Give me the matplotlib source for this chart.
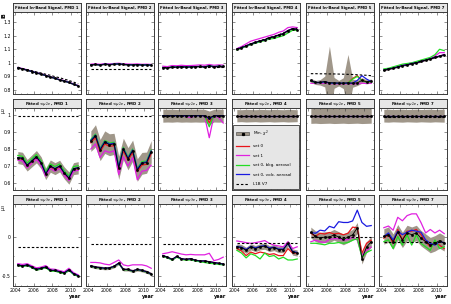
import matplotlib
matplotlib.use('Agg')
import matplotlib.pyplot as plt
from matplotlib.ticker import AutoMinorLocator, FuncFormatter
from matplotlib.patches import Patch
from matplotlib.lines import Line2D

# time axis (semi-annual fits)
yrs = [2004.3, 2004.8, 2005.3, 2005.8, 2006.3, 2006.8, 2007.3,
       2007.8, 2008.3, 2008.8, 2009.3, 2009.8, 2010.3, 2010.8]
pmds = ['1', '2', '3', '4', '5', '7']

# ---- row 1: in-band signal ----
ib_min = [
    [0.963, 0.955, 0.946, 0.936, 0.926, 0.917, 0.906, 0.895, 0.886, 0.874, 0.866, 0.855, 0.842, 0.830],
    [0.985, 0.988, 0.984, 0.990, 0.987, 0.990, 0.992, 0.988, 0.986, 0.985, 0.987, 0.984, 0.985, 0.983],
    [0.965, 0.962, 0.970, 0.968, 0.972, 0.969, 0.970, 0.972, 0.973, 0.970, 0.978, 0.972, 0.975, 0.973],
    [1.100, 1.112, 1.125, 1.140, 1.150, 1.162, 1.170, 1.185, 1.192, 1.205, 1.215, 1.238, 1.252, 1.245],
    [0.870, 0.855, 0.856, 0.862, 0.853, 0.852, 0.850, 0.850, 0.852, 0.850, 0.852, 0.870, 0.860, 0.865],
    [0.945, 0.955, 0.960, 0.970, 0.980, 0.985, 0.995, 1.000, 1.010, 1.020, 1.030, 1.040, 1.050, 1.060],
]
ib_set0 = [
    ib_min[0], ib_min[1], ib_min[2], ib_min[3],
    [0.865, 0.852, 0.853, 0.858, 0.850, 0.850, 0.848, 0.848, 0.850, 0.885, 0.905, 0.870, 0.860, 0.862],
    ib_min[5],
]
ib_set1 = [
    [0.966, 0.958, 0.949, 0.939, 0.929, 0.920, 0.909, 0.898, 0.889, 0.877, 0.869, 0.858, 0.845, 0.833],
    [0.990, 0.993, 0.989, 0.995, 0.992, 0.995, 0.997, 0.993, 0.991, 0.990, 0.992, 0.989, 0.990, 0.988],
    [0.975, 0.972, 0.980, 0.978, 0.982, 0.979, 0.980, 0.982, 0.985, 0.982, 0.988, 0.982, 0.985, 0.983],
    [1.105, 1.120, 1.140, 1.160, 1.170, 1.180, 1.190, 1.200, 1.210, 1.225, 1.235, 1.260, 1.265, 1.260],
    [0.850, 0.848, 0.848, 0.850, 0.846, 0.846, 0.845, 0.845, 0.846, 0.845, 0.846, 0.850, 0.848, 0.850],
    [0.950, 0.955, 0.965, 0.975, 0.985, 0.990, 1.000, 1.005, 1.015, 1.020, 1.030, 1.050, 1.075, 1.075],
]
ib_bkg = [
    ib_min[0], ib_min[1], ib_min[2],
    [1.095, 1.110, 1.120, 1.135, 1.145, 1.155, 1.165, 1.175, 1.180, 1.190, 1.200, 1.220, 1.240, 1.240],
    [0.865, 0.852, 0.853, 0.858, 0.850, 0.850, 0.848, 0.848, 0.850, 0.880, 0.900, 0.868, 0.858, 0.860],
    [0.955, 0.960, 0.970, 0.980, 0.990, 0.995, 1.000, 1.010, 1.020, 1.030, 1.040, 1.060, 1.100, 1.090],
]
ib_volc = [
    ib_min[0], ib_min[1], ib_min[2], ib_min[3],
    [0.870, 0.855, 0.855, 0.860, 0.852, 0.850, 0.850, 0.850, 0.850, 0.850, 0.870, 0.905, 0.880, 0.862],
    ib_min[5],
]
ib_err = [
    [0.004] * 14, [0.004] * 14, [0.004] * 14, [0.005] * 14,
    [0.015, 0.015, 0.02, 0.04, 0.27, 0.04, 0.02, 0.04, 0.21, 0.03, 0.02, 0.02, 0.015, 0.015],
    [0.005] * 14,
]
ib_l1b = [
    [0.968, 0.958, 0.950, 0.942, 0.933, 0.925, 0.916, 0.908, 0.898, 0.890, 0.880, 0.870, 0.858, 0.845],
    [0.952] * 14,
    [0.968] * 14,
    [1.102, 1.114, 1.127, 1.140, 1.152, 1.163, 1.174, 1.186, 1.196, 1.207, 1.220, 1.236, 1.250, 1.255],
    [0.920, 0.920, 0.919, 0.919, 0.918, 0.918, 0.917, 0.916, 0.915, 0.914, 0.912, 0.910, 0.908, 0.905],
    [0.942, 0.951, 0.959, 0.968, 0.977, 0.985, 0.994, 1.002, 1.011, 1.020, 1.029, 1.038, 1.047, 1.055],
]

# ---- row 2: mu2 ----
mu2_min = [
    [0.750, 0.745, 0.705, 0.730, 0.755, 0.720, 0.655, 0.700, 0.685, 0.700, 0.660, 0.630, 0.685, 0.690],
    [0.846, 0.877, 0.794, 0.840, 0.825, 0.830, 0.690, 0.800, 0.743, 0.790, 0.677, 0.716, 0.720, 0.784],
    [0.995, 0.995, 0.995, 0.995, 0.995, 0.995, 0.995, 0.995, 0.995, 0.995, 0.982, 0.995, 0.995, 0.995],
    [0.995] * 14,
    [0.995] * 14,
    [0.995] * 14,
]
mu2_set0 = [
    [0.745, 0.740, 0.700, 0.725, 0.750, 0.715, 0.650, 0.695, 0.680, 0.695, 0.655, 0.625, 0.680, 0.685],
    [0.836, 0.867, 0.784, 0.830, 0.815, 0.820, 0.680, 0.790, 0.733, 0.780, 0.667, 0.706, 0.710, 0.774],
    [0.995, 0.995, 0.995, 0.995, 0.995, 0.995, 0.995, 0.995, 0.995, 0.995, 0.955, 0.995, 0.995, 0.995],
    mu2_min[3], mu2_min[4], mu2_min[5],
]
mu2_set1 = [
    [0.735, 0.730, 0.690, 0.715, 0.740, 0.705, 0.640, 0.685, 0.670, 0.685, 0.645, 0.615, 0.670, 0.675],
    [0.800, 0.830, 0.750, 0.790, 0.780, 0.790, 0.650, 0.755, 0.700, 0.750, 0.620, 0.670, 0.675, 0.705],
    [0.995, 0.995, 0.995, 0.995, 0.995, 0.990, 0.984, 0.995, 0.995, 0.990, 0.866, 0.995, 0.985, 0.952],
    mu2_min[3], mu2_min[4], mu2_min[5],
]
mu2_bkg = [
    [0.762, 0.757, 0.717, 0.742, 0.767, 0.732, 0.667, 0.712, 0.697, 0.712, 0.672, 0.642, 0.697, 0.702],
    [0.856, 0.887, 0.804, 0.850, 0.835, 0.840, 0.700, 0.810, 0.753, 0.800, 0.687, 0.726, 0.730, 0.794],
    [0.995, 0.995, 0.995, 0.995, 0.995, 0.995, 0.995, 0.995, 0.995, 0.995, 0.930, 0.995, 0.995, 0.995],
    mu2_min[3], mu2_min[4], mu2_min[5],
]
mu2_volc = [
    mu2_min[0],
    [0.850, 0.881, 0.798, 0.844, 0.829, 0.834, 0.694, 0.804, 0.747, 0.794, 0.681, 0.720, 0.724, 0.788],
    [0.995, 0.995, 0.995, 0.995, 0.995, 0.995, 0.995, 0.995, 0.995, 0.995, 0.975, 0.995, 0.995, 0.995],
    mu2_min[3], mu2_min[4], mu2_min[5],
]
mu2_err = [
    [0.035, 0.036, 0.034, 0.035, 0.036, 0.035, 0.034, 0.036, 0.035, 0.034, 0.035, 0.036, 0.035, 0.036],
    [0.060, 0.065, 0.062, 0.066, 0.064, 0.062, 0.068, 0.063, 0.065, 0.062, 0.066, 0.064, 0.062, 0.065],
    [0.038, 0.037, 0.038, 0.036, 0.038, 0.037, 0.038, 0.037, 0.038, 0.037, 0.040, 0.037, 0.038, 0.037],
    [0.036, 0.035, 0.037, 0.036, 0.035, 0.037, 0.036, 0.035, 0.037, 0.036, 0.035, 0.037, 0.036, 0.035],
    [0.045, 0.044, 0.046, 0.045, 0.044, 0.046, 0.045, 0.044, 0.046, 0.045, 0.044, 0.046, 0.045, 0.044],
    [0.037, 0.038, 0.036, 0.037, 0.038, 0.036, 0.037, 0.038, 0.036, 0.037, 0.038, 0.036, 0.037, 0.038],
]
mu2_l1b = [0.995, 0.995, 0.995, 0.995, 0.995, 0.990]

# ---- row 3: mu3 ----
mu3_min = [
    [-0.360, -0.374, -0.360, -0.387, -0.419, -0.405, -0.387, -0.432, -0.432, -0.450, -0.464, -0.423, -0.477, -0.500],
    [-0.374, -0.390, -0.396, -0.405, -0.400, -0.380, -0.338, -0.420, -0.420, -0.440, -0.420, -0.432, -0.450, -0.477],
    [-0.240, -0.260, -0.290, -0.250, -0.280, -0.290, -0.280, -0.300, -0.310, -0.310, -0.320, -0.330, -0.340, -0.350],
    [-0.126, -0.135, -0.171, -0.126, -0.149, -0.126, -0.117, -0.149, -0.135, -0.162, -0.162, -0.081, -0.194, -0.207],
    [0.060, 0.010, -0.010, 0.000, 0.000, 0.030, 0.000, -0.030, 0.000, 0.030, 0.120, -0.280, -0.130, -0.060],
    [0.009, 0.032, -0.059, 0.063, -0.036, 0.054, 0.032, 0.054, -0.014, -0.059, -0.104, -0.081, -0.045, -0.081],
]
mu3_set0 = [
    mu3_min[0], mu3_min[1], mu3_min[2],
    [-0.149, -0.180, -0.240, -0.194, -0.216, -0.194, -0.207, -0.225, -0.216, -0.240, -0.240, -0.149, -0.207, -0.207],
    [0.050, 0.010, 0.050, 0.040, 0.060, 0.040, 0.050, 0.030, 0.050, 0.130, 0.120, -0.210, -0.080, -0.040],
    [-0.014, 0.032, -0.081, 0.099, -0.036, 0.077, 0.077, 0.099, 0.032, -0.059, -0.126, -0.081, -0.104, -0.149],
]
mu3_set1 = [
    [-0.345, -0.355, -0.345, -0.372, -0.400, -0.390, -0.370, -0.415, -0.418, -0.435, -0.450, -0.405, -0.462, -0.490],
    [-0.329, -0.329, -0.335, -0.351, -0.360, -0.329, -0.297, -0.360, -0.374, -0.360, -0.360, -0.360, -0.374, -0.405],
    [-0.216, -0.205, -0.190, -0.205, -0.220, -0.230, -0.225, -0.230, -0.230, -0.230, -0.210, -0.306, -0.290, -0.260],
    [-0.050, -0.060, -0.072, -0.081, -0.072, -0.060, -0.045, -0.081, -0.104, -0.115, -0.126, -0.060, -0.149, -0.126],
    [-0.060, -0.040, -0.060, -0.070, -0.030, -0.020, -0.020, -0.040, -0.030, 0.000, -0.040, -0.240, -0.170, -0.130],
    [0.122, 0.144, 0.090, 0.257, 0.212, 0.279, 0.302, 0.302, 0.189, 0.054, 0.099, 0.054, 0.090, 0.045],
]
mu3_bkg = [
    [-0.370, -0.384, -0.370, -0.397, -0.429, -0.415, -0.397, -0.442, -0.442, -0.460, -0.474, -0.433, -0.487, -0.510],
    [-0.379, -0.395, -0.401, -0.410, -0.405, -0.385, -0.343, -0.425, -0.425, -0.445, -0.425, -0.437, -0.455, -0.482],
    [-0.250, -0.270, -0.300, -0.260, -0.290, -0.300, -0.295, -0.310, -0.320, -0.330, -0.340, -0.345, -0.355, -0.360],
    [-0.171, -0.207, -0.270, -0.216, -0.239, -0.284, -0.207, -0.252, -0.239, -0.284, -0.261, -0.297, -0.297, -0.284],
    [-0.080, -0.080, -0.090, -0.100, -0.080, -0.080, -0.070, -0.080, -0.070, -0.040, -0.020, -0.260, -0.200, -0.170],
    [-0.059, -0.036, -0.149, 0.009, -0.104, 0.032, -0.104, 0.032, -0.081, -0.126, -0.171, -0.036, -0.149, -0.126],
]
mu3_volc = [
    mu3_min[0], mu3_min[1], mu3_min[2],
    [-0.120, -0.130, -0.160, -0.120, -0.140, -0.120, -0.110, -0.140, -0.130, -0.155, -0.155, -0.085, -0.185, -0.200],
    [0.060, 0.050, 0.090, 0.080, 0.140, 0.120, 0.200, 0.190, 0.190, 0.210, 0.350, 0.190, 0.140, 0.150],
    [0.009, 0.054, -0.036, 0.077, 0.032, 0.063, 0.090, 0.077, 0.063, -0.036, -0.081, -0.104, -0.059, -0.072],
]
mu3_err = [0.012, 0.02, 0.01, 0.04, 0.07, 0.1]
mu3_l1b = [-0.126, -0.09, -0.09, -0.072, 0.0, -0.059]

band_col = '#a0978a'
edge_col = '#3a3a3a'
W, H = 452, 304


def fr(x0, y0, x1, y1):
    return [x0 / W, 1 - y1 / H, (x1 - x0) / W, (y1 - y0) / H]


fig = plt.figure(figsize=(4.52, 3.04), dpi=100)

lefts = [13, 86, 158, 232, 306, 379]
pw = 68
rows = [(3, 12, 94), (99, 108, 190), (195, 204, 286)]
row_data = [
    (ib_min, ib_set0, ib_set1, ib_bkg, ib_volc, ib_err, ib_l1b),
    (mu2_min, mu2_set0, mu2_set1, mu2_bkg, mu2_volc, mu2_err, mu2_l1b),
    (mu3_min, mu3_set0, mu3_set1, mu3_bkg, mu3_volc, mu3_err, mu3_l1b),
]
titles = ['Fitted In-Band Signal, PMD %s',
          r'Fitted <$\mu_2$>, PMD %s',
          r'Fitted <$\mu_3$>, PMD %s']
ylims = [(0.77, 1.375), (0.56, 1.04), (-0.635, 0.43)]
yticks = [[0.8, 0.9, 1.0, 1.1, 1.2, 1.3], [0.6, 0.7, 0.8, 0.9, 1.0], [-0.5, 0.0]]
ylabels = ['IB', r'$\mu_2$', r'$\mu_3$']

fmt = FuncFormatter(lambda v, p: '%g' % v)
axes = {}
for r, (tt, t0, t1) in enumerate(rows):
    mn, s0, s1, bk, vo, er, lb = row_data[r]
    for c, x0 in enumerate(lefts):
        # title strip
        tax = fig.add_axes(fr(x0, tt, x0 + pw, t0))
        tax.set_facecolor('#e6e6e6')
        tax.set_xticks([])
        tax.set_yticks([])
        for s in tax.spines.values():
            s.set_color(edge_col)
            s.set_linewidth(0.7)
        tax.text(0.5, 0.45, titles[r] % pmds[c], ha='center', va='center',
                 fontsize=2.8, fontweight='bold', transform=tax.transAxes)

        ax = fig.add_axes(fr(x0, t0, x0 + pw, t1))
        axes[(r, c)] = ax
        m = mn[c]
        e = er[c]
        if isinstance(e, list):
            lo = [a - b for a, b in zip(m, e)]
            hi = [a + b for a, b in zip(m, e)]
        else:
            lo = [a - e for a in m]
            hi = [a + e for a in m]
        ax.fill_between(yrs, lo, hi, color=band_col, lw=0, zorder=1)
        ax.plot(yrs, s0[c], color='#e8141a', lw=0.9, zorder=2)
        ax.plot(yrs, s1[c], color='#e020e0', lw=0.9, zorder=3)
        ax.plot(yrs, bk[c], color='#22dd22', lw=0.9, zorder=4)
        ax.plot(yrs, vo[c], color='#1a1ae0', lw=0.9, zorder=5)
        ax.plot(yrs, m, color='k', lw=0.6, marker='s', ms=0.9, zorder=6)
        l = lb[c]
        if not isinstance(l, list):
            l = [l] * len(yrs)
        ax.plot(yrs, l, color='k', lw=0.8, ls=(0, (2.2, 1.8)), zorder=7)

        ax.set_xlim(2003.78, 2011.1)
        ax.set_ylim(*ylims[r])
        ax.set_xticks([2004, 2006, 2008, 2010])
        ax.xaxis.set_minor_locator(AutoMinorLocator(3))
        ax.set_yticks(yticks[r])
        ax.yaxis.set_minor_locator(AutoMinorLocator(2))
        ax.yaxis.set_major_formatter(fmt)
        ax.tick_params(which='both', direction='in', top=True, right=True,
                       labelsize=3.3, pad=1.5, width=0.4, color=edge_col)
        ax.tick_params(which='major', length=2)
        ax.tick_params(which='minor', length=1)
        for s in ax.spines.values():
            s.set_color(edge_col)
            s.set_linewidth(0.7)
        if c > 0:
            ax.set_yticklabels([])
        if r < 2:
            ax.set_xticklabels([])
        else:
            ax.set_xlabel('year', loc='right', fontsize=3.5,
                          fontweight='bold', labelpad=0.5)

    fig.text(3.5 / W, 1 - (t0 + 3) / H, ylabels[r], rotation=90, fontsize=3.5,
             ha='center', va='center', fontweight='bold')

# legend in the mu2 / PMD 4 panel
h_min = (Patch(fc=band_col, ec=edge_col, lw=0.4),
         Line2D([], [], color='k', marker='s', ms=1.3, ls='none'))
handles = [h_min,
           Line2D([], [], color='#e8141a', lw=0.9),
           Line2D([], [], color='#e020e0', lw=0.9),
           Line2D([], [], color='#22dd22', lw=0.9),
           Line2D([], [], color='#1a1ae0', lw=0.9),
           Line2D([], [], color='k', lw=0.8, ls=(0, (2.2, 1.8)))]
labels = [r'Min. $\chi^2$', 'set 0', 'set 1', 'set 0, bkg. aerosol',
          'set 0, volc. aerosol', 'L1B V7']
leg = axes[(1, 3)].legend(handles, labels, loc='lower left',
                          bbox_to_anchor=(0.0, 0.0, 1.0, 0.65), mode='expand',
                          fontsize=3.0, frameon=True, fancybox=False,
                          borderaxespad=0.15, handlelength=3.2,
                          labelspacing=1.3, borderpad=0.8, handletextpad=0.8)
leg.get_frame().set_facecolor('#e6e6e6')
leg.get_frame().set_edgecolor(edge_col)
leg.get_frame().set_linewidth(0.6)
leg.get_frame().set_alpha(1)
leg.set_zorder(10)

fig.savefig('out.png', dpi=100)
